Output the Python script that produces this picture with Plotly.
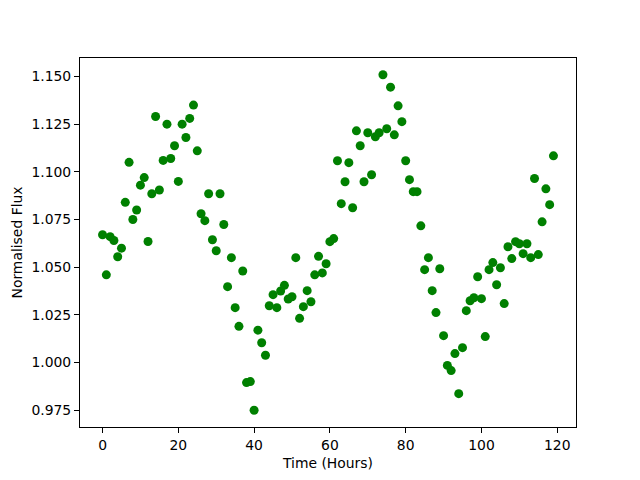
import plotly.graph_objects as go

time_hours = list(range(120))
flux = [
    1.067, 1.046, 1.066, 1.064, 1.0555, 1.060, 1.084, 1.105, 1.075, 1.080,
    1.093, 1.097, 1.0635, 1.0885, 1.129, 1.0905, 1.106, 1.125, 1.107, 1.1137,
    1.095, 1.125, 1.118, 1.128, 1.135, 1.111, 1.078, 1.0744, 1.0885, 1.0644,
    1.0586, 1.0885, 1.0724, 1.0398, 1.055, 1.0288, 1.019, 1.048, 0.9895, 0.990,
    0.975, 1.017, 1.0104, 1.0038, 1.0298, 1.0356, 1.0288, 1.0375, 1.0405, 1.0333,
    1.0345, 1.055, 1.0232, 1.0293, 1.0377, 1.0319, 1.046, 1.0557, 1.047, 1.0518,
    1.0634, 1.065, 1.1058, 1.0833, 1.0948, 1.1048, 1.0812, 1.1215, 1.1137, 1.0948,
    1.1205, 1.0985, 1.1184, 1.1205, 1.1509, 1.1226, 1.1444, 1.1194, 1.1346, 1.1263,
    1.1058, 1.0959, 1.0896, 1.0896, 1.0717, 1.0487, 1.055, 1.0377, 1.0262, 1.0492,
    1.0141, 0.9985, 0.9958, 1.0047, 0.9837, 1.0078, 1.0272, 1.0324, 1.034, 1.045,
    1.0335, 1.0136, 1.0487, 1.0524, 1.0408, 1.0497, 1.0309, 1.0607, 1.0545, 1.0634,
    1.0623, 1.0571, 1.0623, 1.055, 1.0965, 1.0566, 1.0738, 1.0911, 1.0828, 1.1084,
]
x_ticks = [0, 20, 40, 60, 80, 100, 120]
y_ticks = [0.975, 1.000, 1.025, 1.050, 1.075, 1.100, 1.125, 1.150]

xmin, xmax = min(time_hours), max(time_hours)
ymin, ymax = min(flux), max(flux)
xm = 0.05 * (xmax - xmin)
ym = 0.05 * (ymax - ymin)

FONT = "DejaVu Sans"
fig = go.Figure(
    go.Scatter(
        x=time_hours, y=flux, mode="markers",
        marker=dict(color="#008000", size=9, line=dict(width=0)),
    )
)
axis_common = dict(
    showgrid=False, zeroline=False, showline=True, mirror=True,
    linecolor="black", linewidth=1, ticks="outside", ticklen=5,
    tickwidth=1, tickcolor="black", automargin=False,
    tickfont=dict(family=FONT, size=13.9, color="black"),
)
# the page body adds an 8px offset, so the figure is 8px smaller on each side
fig.update_layout(
    width=632, height=472,
    margin=dict(l=72, r=64, t=50, b=53, pad=0),
    paper_bgcolor="white", plot_bgcolor="white",
    showlegend=False,
    font=dict(family=FONT, size=13.9, color="black"),
    xaxis=dict(
        range=[xmin - xm, xmax + xm], tickvals=x_ticks,
        title=dict(text="Time (Hours)", font=dict(family=FONT, size=13.9), standoff=6),
        **axis_common,
    ),
    yaxis=dict(
        range=[ymin - ym, ymax + ym], tickvals=y_ticks, tickformat=".3f",
        title=dict(text="Normalised Flux", font=dict(family=FONT, size=13.9), standoff=5),
        **axis_common,
    ),
)
fig.write_html("out.html")
